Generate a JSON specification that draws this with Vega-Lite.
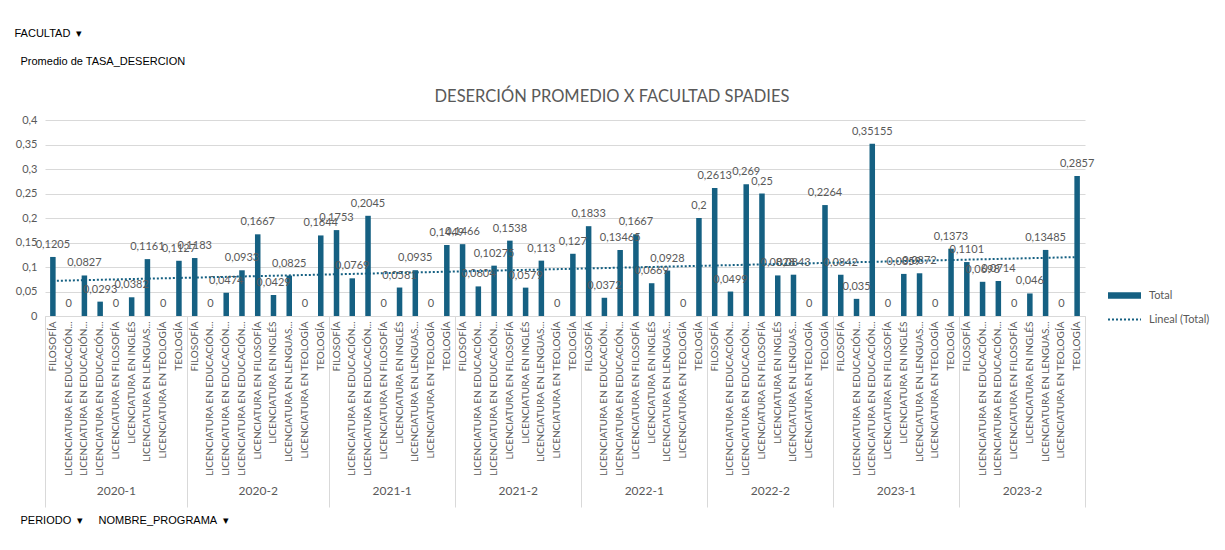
{
  "$schema": "https://vega.github.io/schema/vega-lite/v6.json",
  "width": 1040,
  "height": 196,
  "autosize": {"type": "none"},
  "padding": {"left": 45, "top": 120, "right": 140, "bottom": 234},
  "background": "white",
  "config": {
    "view": {"stroke": null},
    "font": "Lato",
    "axisY": {
      "values": [0, 0.05, 0.1, 0.15, 0.2, 0.25, 0.3, 0.35, 0.4],
      "labelExpr": "replace(format(datum.value, '.2~f'), '.', ',')",
      "labelOverlap": false,
      "domain": false, "ticks": false, "gridColor": "#d9d9d9",
      "labelPadding": 8, "labelFontSize": 11, "labelColor": "#595959",
      "titleAngle": 0, "titleX": -25, "titleY": -59, "titleAlign": "left",
      "titleBaseline": "middle", "titleFont": "Liberation Sans", "titleFontSize": 11,
      "titleFontWeight": "normal", "titleColor": "#000000"
    }
  },
  "title": {"text": "DESERCIÓN PROMEDIO X FACULTAD SPADIES", "anchor": "middle", "dx": 47, "offset": -78, "fontSize": 16.5, "fontWeight": "normal", "color": "#595959", "font": "Lato"},
  "data": {"values": [
    {"periodo": "2020-1", "programa": "FILOSOFÍA", "tasa": 0.1205},
    {"periodo": "2020-1", "programa": "LICENCIATURA EN EDUCACIÓN...", "tasa": 0},
    {"periodo": "2020-1", "programa": "LICENCIATURA EN EDUCACIÓN...", "tasa": 0.0827},
    {"periodo": "2020-1", "programa": "LICENCIATURA EN EDUCACIÓN...", "tasa": 0.0293},
    {"periodo": "2020-1", "programa": "LICENCIATURA EN FILOSOFÍA", "tasa": 0},
    {"periodo": "2020-1", "programa": "LICENCIATURA EN INGLÉS", "tasa": 0.0382},
    {"periodo": "2020-1", "programa": "LICENCIATURA EN LENGUAS...", "tasa": 0.1161},
    {"periodo": "2020-1", "programa": "LICENCIATURA EN TEOLOGÍA", "tasa": 0},
    {"periodo": "2020-1", "programa": "TEOLOGÍA", "tasa": 0.1127},
    {"periodo": "2020-2", "programa": "FILOSOFÍA", "tasa": 0.1183},
    {"periodo": "2020-2", "programa": "LICENCIATURA EN EDUCACIÓN...", "tasa": 0},
    {"periodo": "2020-2", "programa": "LICENCIATURA EN EDUCACIÓN...", "tasa": 0.0474},
    {"periodo": "2020-2", "programa": "LICENCIATURA EN EDUCACIÓN...", "tasa": 0.0933},
    {"periodo": "2020-2", "programa": "LICENCIATURA EN FILOSOFÍA", "tasa": 0.1667},
    {"periodo": "2020-2", "programa": "LICENCIATURA EN INGLÉS", "tasa": 0.0429},
    {"periodo": "2020-2", "programa": "LICENCIATURA EN LENGUAS...", "tasa": 0.0825},
    {"periodo": "2020-2", "programa": "LICENCIATURA EN TEOLOGÍA", "tasa": 0},
    {"periodo": "2020-2", "programa": "TEOLOGÍA", "tasa": 0.1644},
    {"periodo": "2021-1", "programa": "FILOSOFÍA", "tasa": 0.1753},
    {"periodo": "2021-1", "programa": "LICENCIATURA EN EDUCACIÓN...", "tasa": 0.0769},
    {"periodo": "2021-1", "programa": "LICENCIATURA EN EDUCACIÓN...", "tasa": 0.2045},
    {"periodo": "2021-1", "programa": "LICENCIATURA EN FILOSOFÍA", "tasa": 0},
    {"periodo": "2021-1", "programa": "LICENCIATURA EN INGLÉS", "tasa": 0.0581},
    {"periodo": "2021-1", "programa": "LICENCIATURA EN LENGUAS...", "tasa": 0.0935},
    {"periodo": "2021-1", "programa": "LICENCIATURA EN TEOLOGÍA", "tasa": 0},
    {"periodo": "2021-1", "programa": "TEOLOGÍA", "tasa": 0.1449},
    {"periodo": "2021-2", "programa": "FILOSOFÍA", "tasa": 0.1466},
    {"periodo": "2021-2", "programa": "LICENCIATURA EN EDUCACIÓN...", "tasa": 0.0604},
    {"periodo": "2021-2", "programa": "LICENCIATURA EN EDUCACIÓN...", "tasa": 0.10275},
    {"periodo": "2021-2", "programa": "LICENCIATURA EN FILOSOFÍA", "tasa": 0.1538},
    {"periodo": "2021-2", "programa": "LICENCIATURA EN INGLÉS", "tasa": 0.0579},
    {"periodo": "2021-2", "programa": "LICENCIATURA EN LENGUAS...", "tasa": 0.113},
    {"periodo": "2021-2", "programa": "LICENCIATURA EN TEOLOGÍA", "tasa": 0},
    {"periodo": "2021-2", "programa": "TEOLOGÍA", "tasa": 0.127},
    {"periodo": "2022-1", "programa": "FILOSOFÍA", "tasa": 0.1833},
    {"periodo": "2022-1", "programa": "LICENCIATURA EN EDUCACIÓN...", "tasa": 0.0372},
    {"periodo": "2022-1", "programa": "LICENCIATURA EN EDUCACIÓN...", "tasa": 0.13465},
    {"periodo": "2022-1", "programa": "LICENCIATURA EN FILOSOFÍA", "tasa": 0.1667},
    {"periodo": "2022-1", "programa": "LICENCIATURA EN INGLÉS", "tasa": 0.0669},
    {"periodo": "2022-1", "programa": "LICENCIATURA EN LENGUAS...", "tasa": 0.0928},
    {"periodo": "2022-1", "programa": "LICENCIATURA EN TEOLOGÍA", "tasa": 0},
    {"periodo": "2022-1", "programa": "TEOLOGÍA", "tasa": 0.2},
    {"periodo": "2022-2", "programa": "FILOSOFÍA", "tasa": 0.2613},
    {"periodo": "2022-2", "programa": "LICENCIATURA EN EDUCACIÓN...", "tasa": 0.0499},
    {"periodo": "2022-2", "programa": "LICENCIATURA EN EDUCACIÓN...", "tasa": 0.269},
    {"periodo": "2022-2", "programa": "LICENCIATURA EN FILOSOFÍA", "tasa": 0.25},
    {"periodo": "2022-2", "programa": "LICENCIATURA EN INGLÉS", "tasa": 0.0828},
    {"periodo": "2022-2", "programa": "LICENCIATURA EN LENGUAS...", "tasa": 0.0843},
    {"periodo": "2022-2", "programa": "LICENCIATURA EN TEOLOGÍA", "tasa": 0},
    {"periodo": "2022-2", "programa": "TEOLOGÍA", "tasa": 0.2264},
    {"periodo": "2023-1", "programa": "FILOSOFÍA", "tasa": 0.0842},
    {"periodo": "2023-1", "programa": "LICENCIATURA EN EDUCACIÓN...", "tasa": 0.035},
    {"periodo": "2023-1", "programa": "LICENCIATURA EN EDUCACIÓN...", "tasa": 0.35155},
    {"periodo": "2023-1", "programa": "LICENCIATURA EN FILOSOFÍA", "tasa": 0},
    {"periodo": "2023-1", "programa": "LICENCIATURA EN INGLÉS", "tasa": 0.0859},
    {"periodo": "2023-1", "programa": "LICENCIATURA EN LENGUAS...", "tasa": 0.0872},
    {"periodo": "2023-1", "programa": "LICENCIATURA EN TEOLOGÍA", "tasa": 0},
    {"periodo": "2023-1", "programa": "TEOLOGÍA", "tasa": 0.1373},
    {"periodo": "2023-2", "programa": "FILOSOFÍA", "tasa": 0.1101},
    {"periodo": "2023-2", "programa": "LICENCIATURA EN EDUCACIÓN...", "tasa": 0.0698},
    {"periodo": "2023-2", "programa": "LICENCIATURA EN EDUCACIÓN...", "tasa": 0.0714},
    {"periodo": "2023-2", "programa": "LICENCIATURA EN FILOSOFÍA", "tasa": 0},
    {"periodo": "2023-2", "programa": "LICENCIATURA EN INGLÉS", "tasa": 0.046},
    {"periodo": "2023-2", "programa": "LICENCIATURA EN LENGUAS...", "tasa": 0.13485},
    {"periodo": "2023-2", "programa": "LICENCIATURA EN TEOLOGÍA", "tasa": 0},
    {"periodo": "2023-2", "programa": "TEOLOGÍA", "tasa": 0.2857}
  ]},
  "transform": [
    {"window": [{"op": "row_number", "as": "idx"}]},
    {"calculate": "datum.idx + '|' + datum.programa", "as": "key"},
    {"calculate": "replace(toString(datum.tasa), '.', ',')", "as": "etiqueta"}
  ],
  "layer": [
    {
      "layer": [
        {
          "mark": {"type": "bar"},
          "encoding": {
            "x": {
              "field": "key", "type": "nominal",
              "sort": {"field": "idx", "op": "min"},
              "scale": {"paddingInner": 0.65, "paddingOuter": 0.325},
              "axis": {
                "title": "PERIODO \u00a0▾\u00a0\u00a0\u00a0\u00a0 NOMBRE_PROGRAMA \u00a0▾",
                "labelExpr": "split(datum.value, '|')[1]",
                "labelAngle": -90, "labelAlign": "right", "labelBaseline": "middle",
                "labelPadding": 5, "labelFontSize": 10, "labelColor": "#595959",
                "labelOverlap": false, "labelLimit": 300, "ticks": false,
                "domainColor": "#d9d9d9",
                "titleX": -25, "titleY": 204, "titleAlign": "left", "titleAngle": 0,
                "titleBaseline": "middle", "titleFont": "Liberation Sans", "titleFontSize": 11,
                "titleFontWeight": "normal", "titleColor": "#000000"
              }
            },
            "y": {
              "field": "tasa", "type": "quantitative",
              "title": "Promedio de TASA_DESERCION",
              "scale": {"domain": [0, 0.4], "nice": false},
              "axis": {"tickCount": 8}
            },
            "color": {
              "datum": "Total",
              "scale": {"domain": ["Total", "Lineal (Total)"], "range": ["#156082", "#156082"]},
              "legend": {
                "title": null, "orient": "none", "legendX": 1074, "legendY": 170,
                "labelFontSize": 11, "labelColor": "#595959", "labelOffset": 19,
                "rowPadding": 12, "symbolSize": 1089,
                "encode": {
                  "symbols": {
                    "update": {
                      "shape": {"signal": "datum.value === 'Total' ? 'M-1,-0.2H1V0.2H-1Z' : 'M-1,0H1'"},
                      "fill": {"signal": "datum.value === 'Total' ? '#156082' : 'transparent'"},
                      "stroke": {"value": "#156082"},
                      "strokeWidth": {"signal": "datum.value === 'Total' ? 0 : 2"},
                      "strokeDash": {"signal": "datum.value === 'Total' ? [1,0] : [2,2]"},
                      "opacity": {"value": 1}
                    }
                  }
                }
              }
            }
          }
        },
        {
          "mark": {"type": "text", "baseline": "middle", "dy": -12, "fontSize": 11, "color": "#595959"},
          "encoding": {
            "x": {"field": "key", "type": "nominal", "sort": {"field": "idx", "op": "min"}},
            "y": {"field": "tasa", "type": "quantitative", "title": "Promedio de TASA_DESERCION", "axis": {"tickCount": 8}},
            "text": {"field": "etiqueta"}
          }
        }
      ]
    },
    {
      "transform": [{"regression": "tasa", "on": "idx"}],
      "mark": {"type": "line", "strokeDash": [2, 2], "strokeWidth": 2},
      "encoding": {
        "x": {
          "field": "idx", "type": "quantitative",
          "scale": {"domain": [0.5, 66.5], "nice": false, "zero": false},
          "axis": {
            "orient": "bottom",
            "values": [0.5, 5, 9.5, 14, 18.5, 22.5, 26.5, 30.5, 34.5, 38.5, 42.5, 46.5, 50.5, 54.5, 58.5, 62.5, 66.5],
            "labelExpr": "datum.value==5?'2020-1':datum.value==14?'2020-2':datum.value==22.5?'2021-1':datum.value==30.5?'2021-2':datum.value==38.5?'2022-1':datum.value==46.5?'2022-2':datum.value==54.5?'2023-1':datum.value==62.5?'2023-2':''",
            "domain": false, "grid": false,
            "tickSize": 191, "tickWidth": 1,
            "tickColor": {"condition": {"test": "indexof([0.5,9.5,18.5,26.5,34.5,42.5,50.5,58.5,66.5], datum.value) >= 0", "value": "#d9d9d9"}, "value": "transparent"},
            "labelPadding": -22, "labelFontSize": 12, "labelColor": "#595959",
            "labelOverlap": false, "labelFlush": false, "labelBound": false,
            "labelAngle": 0, "labelBaseline": "top",
            "title": "FACULTAD \u00a0▾", "titleX": -31, "titleY": -283, "titleAlign": "left",
            "titleAngle": 0, "titleBaseline": "middle", "titleFont": "Liberation Sans",
            "titleFontSize": 11, "titleFontWeight": "normal", "titleColor": "#000000"
          }
        },
        "y": {"field": "tasa", "type": "quantitative", "title": "Promedio de TASA_DESERCION", "axis": {"tickCount": 8}},
        "color": {"datum": "Lineal (Total)"}
      }
    }
  ],
  "resolve": {"scale": {"x": "independent"}}
}
